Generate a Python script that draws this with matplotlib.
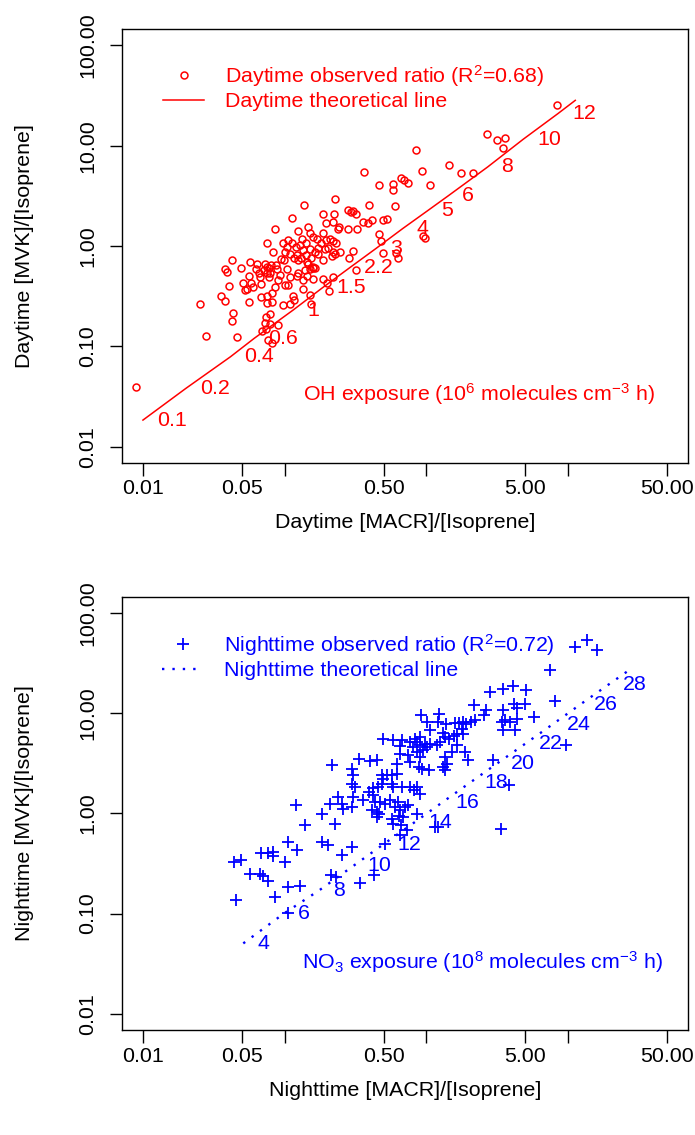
import numpy as np
import matplotlib
matplotlib.use("Agg")
import matplotlib.pyplot as plt
from matplotlib.ticker import FixedLocator, FixedFormatter, NullLocator

plt.rcParams['font.family'] = ['Liberation Sans', 'DejaVu Sans']
plt.rcParams['mathtext.fontset'] = 'custom'
plt.rcParams['mathtext.rm'] = 'Liberation Sans'
plt.rcParams['mathtext.it'] = 'Liberation Sans:italic'
plt.rcParams['mathtext.bf'] = 'Liberation Sans:bold'

# ---------------- data ----------------
day_macr = [0.364, 0.465, 0.227, 0.138, 0.396, 0.186, 0.224, 0.279, 0.293, 0.305,
            0.318, 0.1135, 0.196, 0.219, 0.242, 0.237, 0.282, 0.327, 0.356, 0.390,
            0.412, 0.498, 0.532, 0.0855, 0.124, 0.147, 0.151, 0.186, 0.160, 0.209,
            0.219, 0.231, 0.465, 0.478, 0.0755, 0.0968, 0.106, 0.112, 0.132, 0.142,
            0.169, 0.181, 0.196, 0.193, 0.204, 0.221, 0.246, 0.303, 0.286, 0.493,
            0.1035, 0.1205, 0.1285, 0.1355, 0.151, 0.164, 0.171, 0.0834, 0.1007, 0.109,
            0.1165, 0.123, 0.1306, 0.142, 0.153, 0.173, 0.186, 0.215, 0.227, 0.0944,
            0.0995, 0.124, 0.143, 0.147, 0.160, 0.164, 0.0428, 0.0570, 0.0643, 0.0728,
            0.0746, 0.078, 0.0802, 0.0865, 0.0379, 0.0394, 0.049, 0.0625, 0.0664, 0.0716,
            0.0746, 0.0789, 0.0879, 0.0929, 0.1035, 0.109, 0.1216, 0.1393, 0.151, 0.160,
            0.125, 0.0564, 0.067, 0.0776, 0.0512, 0.058, 0.0601, 0.0546, 0.0525, 0.0678,
            0.0855, 0.0904, 0.1007, 0.106, 0.1355, 0.143, 0.158, 0.188, 0.198, 0.219,
            0.206, 0.318, 0.0407, 0.0354, 0.0379, 0.0564, 0.0681, 0.0755, 0.0811, 0.0755,
            0.0818, 0.098, 0.110, 0.114, 0.117, 0.1355, 0.151, 0.153, 0.0253, 0.043,
            0.0423, 0.074, 0.0789, 0.0728, 0.0789, 0.0904, 0.0689, 0.074, 0.0277, 0.0459,
            0.0759, 0.0811,
            0.0090, 8.43, 2.68, 3.15, 3.61, 3.46, 0.853, 0.939, 1.46, 1.75,
            2.13, 0.585, 0.585, 0.662, 0.703, 0.745, 1.07, 0.603, 0.951, 0.980,
            0.617, 0.628]
day_mvk = [5.52, 4.01, 2.95, 2.59, 2.59, 2.07, 2.07, 2.30, 2.18, 2.23,
           2.09, 1.90, 1.71, 1.73, 1.55, 1.47, 1.49, 1.49, 1.73, 1.71,
           1.80, 1.83, 1.87, 1.47, 1.41, 1.55, 1.35, 1.35, 1.23, 1.17,
           1.12, 1.06, 1.33, 1.12, 1.07, 1.07, 1.14, 1.07, 1.18, 1.07,
           1.17, 1.07, 1.14, 0.942, 0.964, 0.873, 0.873, 0.885, 0.766, 0.853,
           0.977, 0.977, 1.02, 0.906, 0.942, 0.873, 0.964, 0.873, 0.873, 0.840,
           0.766, 0.809, 0.766, 0.809, 0.766, 0.840, 0.733, 0.791, 0.840, 0.750,
           0.721, 0.721, 0.693, 0.658, 0.619, 0.605, 0.733, 0.693, 0.658, 0.668,
           0.619, 0.610, 0.643, 0.643, 0.596, 0.552, 0.610, 0.587, 0.532, 0.574,
           0.532, 0.532, 0.596, 0.512, 0.596, 0.492, 0.500, 0.574, 0.596, 0.610,
           0.532, 0.500, 0.492, 0.492, 0.423, 0.423, 0.392, 0.369, 0.363, 0.417,
           0.392, 0.456, 0.407, 0.407, 0.456, 0.500, 0.474, 0.474, 0.423, 0.492,
           0.355, 0.574, 0.398, 0.319, 0.284, 0.278, 0.312, 0.316, 0.337, 0.272,
           0.278, 0.258, 0.262, 0.319, 0.289, 0.372, 0.324, 0.262, 0.262, 0.216,
           0.179, 0.197, 0.210, 0.169, 0.167, 0.163, 0.143, 0.148, 0.128, 0.123,
           0.116, 0.107,
           0.0396, 25.6, 13.0, 11.5, 11.9, 9.50, 9.14, 5.56, 6.48, 5.40,
           5.40, 4.13, 3.60, 4.81, 4.53, 4.29, 4.09, 2.49, 1.25, 1.19,
           0.842, 0.762]

day_line_macr = [0.0100, 0.0201, 0.0415, 0.0610, 0.115, 0.185, 0.290, 0.445,
                 0.682, 1.02, 1.43, 2.72, 4.85, 8.53, 11.3]
day_line_mvk = [0.0184, 0.0381, 0.0787, 0.120, 0.230, 0.383, 0.611, 0.951,
                1.49, 2.24, 3.16, 6.14, 11.6, 20.9, 28.3]
day_exposure = ["0.1", "0.2", "0.4", "0.6", "1", "1.5", "2.2", "3", "4", "5",
                "6", "8", "10", "12"]

night_macr = [2.82, 3.47, 4.08, 3.47, 4.19, 4.36, 2.19, 2.63, 2.58, 2.21,
              2.06, 1.91, 1.81, 1.71, 1.78, 1.83, 1.61, 3.61, 3.41, 3.91,
              3.47, 4.24, 0.918, 1.24, 1.01, 1.22, 1.38, 1.06, 1.32, 1.36,
              1.56, 1.64, 1.45, 0.493, 0.579, 0.671, 0.653, 0.769, 0.834, 0.857,
              0.904, 0.904, 0.982, 1.06, 1.19, 1.25, 0.802, 0.857, 0.955, 1.01,
              1.64, 1.51, 1.88, 1.99, 0.653, 0.748, 0.769, 0.904, 0.895, 1.04,
              0.929, 1.36, 1.40, 1.32, 1.36, 2.98, 0.215, 0.298, 0.337, 0.401,
              0.447, 0.618, 0.305, 0.484, 0.526, 0.570, 0.618, 0.498, 0.484, 0.298,
              0.314, 0.424, 0.459, 0.586, 0.570, 0.671, 0.769, 0.857, 0.820, 0.396,
              0.424, 0.360, 0.305, 0.239, 0.253, 0.209, 0.260, 0.298, 0.435, 0.472,
              0.512, 0.555, 0.635, 0.603, 0.653, 0.708, 0.748, 0.412, 0.447, 0.467,
              0.447, 0.570, 0.643, 0.690, 0.857, 0.586, 0.664, 0.183, 0.227, 0.904,
              1.15, 1.22, 3.37, 3.86, 0.653, 0.728, 4.41,
              0.0441, 0.0495, 0.0454, 0.0571, 0.0674, 0.0703, 0.076, 0.0687, 0.076, 0.0829,
              0.0829, 0.101, 0.0855, 0.105, 0.129, 0.106, 0.122, 0.106, 0.121, 0.139,
              0.185, 0.202, 0.253, 0.301, 0.214, 0.230, 0.340, 0.430, 0.515, 11.2,
              13.6, 16.2, 7.52, 8.07, 5.82, 9.64, 5.11, 4.96]
night_mvk = [16.0, 17.5, 18.5, 10.6, 12.4, 11.1, 11.9, 10.6, 9.48, 8.59,
             8.15, 7.83, 8.15, 7.96, 6.98, 6.24, 7.96, 8.45, 8.15, 8.15,
             6.73, 6.73, 9.48, 9.86, 8.15, 8.15, 7.83, 6.73, 6.32, 5.77,
             5.86, 6.14, 5.56, 5.56, 5.35, 5.35, 4.66, 5.15, 5.56, 5.15,
             5.77, 4.76, 4.88, 4.95, 4.76, 5.15, 4.59, 4.09, 4.25, 4.59,
             4.76, 4.09, 4.09, 3.38, 3.94, 3.79, 3.25, 3.65, 2.90, 2.69,
             2.79, 3.65, 3.13, 2.90, 2.69, 3.38, 3.01, 2.79, 3.51, 3.33,
             3.38, 3.13, 2.40, 2.40, 2.40, 2.40, 2.49, 2.22, 1.98, 1.98,
             1.83, 1.77, 1.83, 1.83, 1.98, 1.83, 1.83, 1.83, 1.70, 1.64,
             1.51, 1.35, 1.46, 1.46, 1.25, 1.25, 1.11, 1.16, 1.30, 1.30,
             1.25, 1.35, 1.30, 1.16, 1.07, 1.16, 1.20, 1.07, 1.03, 0.995,
             0.923, 0.887, 0.935, 0.923, 0.995, 0.791, 0.762, 0.995, 0.791, 1.57,
             0.733, 0.733, 0.705, 1.91, 0.605, 0.679, 8.79,
             0.329, 0.341, 0.136, 0.251, 0.251, 0.236, 0.212, 0.398, 0.404, 0.413,
             0.374, 0.329, 0.147, 0.185, 0.188, 0.520, 0.435, 0.102, 1.20, 0.762,
             0.520, 0.482, 0.383, 0.463, 0.245, 0.230, 0.200, 0.242, 0.500, 45.5,
             52.9, 42.7, 26.7, 13.2, 9.14, 4.77, 16.8, 12.4]

night_line_macr = [0.0511, 0.0991, 0.176, 0.309, 0.497, 0.823, 1.284, 2.06,
                   3.16, 5.02, 7.83, 12.2, 19.4, 27.4]
night_line_mvk = [0.0505, 0.1004, 0.171, 0.302, 0.489, 0.809, 1.27, 2.04,
                  3.13, 4.95, 7.72, 12.1, 19.2, 27.0]
night_exposure = ["4", "6", "8", "10", "12", "14", "16", "18", "20", "22",
                  "24", "26", "28"]

x_ticks = [0.01, 0.05, 0.1, 0.5, 1, 5, 10, 50]
x_ticklabels = ["0.01", "0.05", "", "0.50", "", "5.00", "", "50.00"]
y_ticks = [0.01, 0.1, 1, 10, 100]
y_ticklabels = ["0.01", "0.10", "1.00", "10.00", "100.00"]
x_range = (0.01, 50)
y_range = (0.01, 100)

# ---------------- styling ----------------
FS = 15.4
W, H = 695, 1135


def r_lims(lo, hi):
    l, h = np.log10(lo), np.log10(hi)
    p = 0.04 * (h - l)
    return 10 ** (l - p), 10 ** (h + p)


def style_axes(ax, xlabel, ylabel):
    ax.set_xscale('log')
    ax.set_yscale('log')
    ax.set_xlim(*r_lims(*x_range))
    ax.set_ylim(*r_lims(*y_range))
    ax.xaxis.set_major_locator(FixedLocator(x_ticks))
    ax.xaxis.set_major_formatter(FixedFormatter(x_ticklabels))
    ax.yaxis.set_major_locator(FixedLocator(y_ticks))
    ax.yaxis.set_major_formatter(FixedFormatter(y_ticklabels))
    ax.xaxis.set_minor_locator(NullLocator())
    ax.yaxis.set_minor_locator(NullLocator())
    ax.tick_params(axis='both', direction='out', length=9, width=1.0,
                   labelsize=FS, color='black')
    ax.tick_params(axis='x', pad=3)
    ax.tick_params(axis='y', pad=9)
    for lab in ax.get_yticklabels():
        lab.set_rotation(90)
        lab.set_va('center')
    for s in ax.spines.values():
        s.set_linewidth(1.0)
    ax.set_xlabel(xlabel, fontsize=FS)
    ax.set_ylabel(ylabel, fontsize=FS)
    ax.xaxis.set_label_coords(0.5, -(523 - 462.7) / 433.4)
    ax.xaxis.label.set_va('center')
    ax.yaxis.set_label_coords(-(122 - 25) / 565.7, 0.5)
    ax.yaxis.label.set_va('center')
    ax.yaxis.label.set_ha('center')


fig = plt.figure(figsize=(W / 100, H / 100), dpi=100)
fig.patch.set_facecolor('white')
ax1 = fig.add_axes([122 / W, 1 - 462.7 / H, 565.7 / W, 433.4 / H])
ax2 = fig.add_axes([122 / W, 1 - 1030 / H, 565.7 / W, 433.4 / H])

# ---- top panel (daytime) ----
style_axes(ax1, 'Daytime [MACR]/[Isoprene]', 'Daytime [MVK]/[Isoprene]')
pts1, = ax1.plot(day_macr, day_mvk, ls='none', marker='o', ms=5.0,
                 mfc='none', mec='red', mew=1.1)
ln1, = ax1.plot(day_line_macr, day_line_mvk, color='red', lw=1.1)
for x, y, s in zip(day_line_macr, day_line_mvk, day_exposure):
    ax1.annotate(s, (x, y), xytext=(10, 0), textcoords='offset points',
                 ha='left', va='center', color='red', fontsize=FS)
ax1.text(0.3194, 0.1594, r'OH exposure (10$^{\mathregular{6}}$ molecules cm$^{\mathregular{-3}}$ h)',
         transform=ax1.transAxes, ha='left', va='center', color='red', fontsize=FS)
leg1 = ax1.legend([pts1, ln1],
                  [r'Daytime observed ratio (R$^{\mathregular{2}}$=0.68)', 'Daytime theoretical line'],
                  loc='upper left', bbox_to_anchor=(0.0725, 0.922), frameon=False,
                  fontsize=FS, handlelength=1.93, handletextpad=0.99,
                  labelspacing=0.15, borderpad=0, borderaxespad=0, numpoints=1,
                  labelcolor='red')

# ---- bottom panel (nighttime) ----
style_axes(ax2, 'Nighttime [MACR]/[Isoprene]', 'Nighttime [MVK]/[Isoprene]')
pts2, = ax2.plot(night_macr, night_mvk, ls='none', marker='+', ms=8,
                 mec='blue', mew=1.3)
ln2, = ax2.plot(night_line_macr, night_line_mvk, color='blue', lw=1.7,
                ls=(0, (1, 3.4)))
for x, y, s in zip(night_line_macr, night_line_mvk, night_exposure):
    ax2.annotate(s, (x, y), xytext=(10, 0), textcoords='offset points',
                 ha='left', va='center', color='blue', fontsize=FS)
ax2.text(0.3187, 0.1576,
         r'NO$_{\mathregular{3}}$ exposure (10$^{\mathregular{8}}$ molecules cm$^{\mathregular{-3}}$ h)',
         transform=ax2.transAxes, ha='left', va='center', color='blue', fontsize=FS)
leg2 = ax2.legend([pts2, ln2],
                  [r'Nighttime observed ratio (R$^{\mathregular{2}}$=0.72)', 'Nighttime theoretical line'],
                  loc='upper left', bbox_to_anchor=(0.0707, 0.918), frameon=False,
                  fontsize=FS, handlelength=1.93, handletextpad=0.99,
                  labelspacing=0.15, borderpad=0, borderaxespad=0, numpoints=1,
                  labelcolor='blue')

fig.savefig('out.png', dpi=100, facecolor='white')
